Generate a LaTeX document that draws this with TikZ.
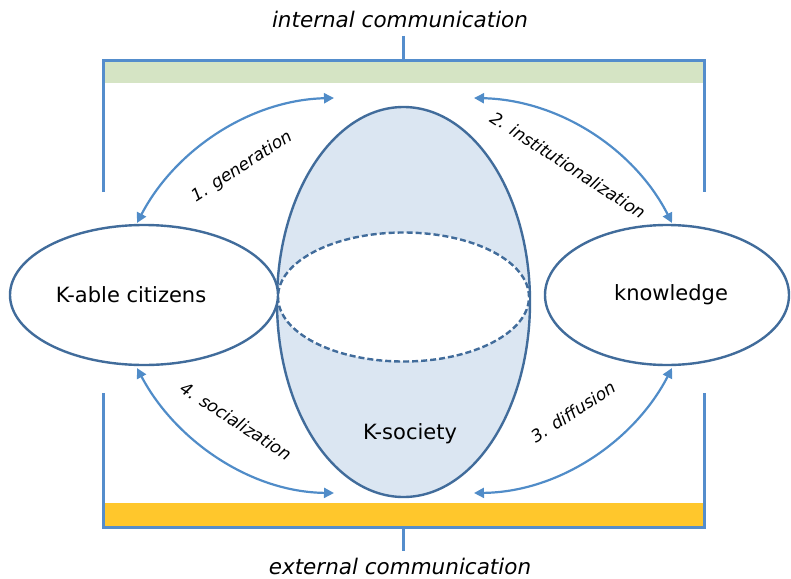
\documentclass[tikz,border=0pt]{standalone}
\usepackage{fontspec}
\setmainfont{DejaVu Sans}
\usetikzlibrary{arrows.meta,shapes.geometric}
\definecolor{framec}{RGB}{84,141,204}
\definecolor{arrowc}{RGB}{80,140,200}
\definecolor{ellc}{RGB}{65,108,155}
\definecolor{fillc}{RGB}{219,230,242}
\definecolor{greenc}{RGB}{213,228,196}
\definecolor{yellowc}{RGB}{255,199,44}
\tikzset{
  frameline/.style={draw=framec,line width=3pt},
  ell/.style={ellipse,draw=ellc,line width=2.4pt,inner sep=0pt},
  flow/.style={draw=arrowc,line width=2.2pt,{Triangle[length=10pt,width=10pt]}-{Triangle[length=10pt,width=10pt]}},
  lbl/.style={font=\fontsize{17}{20}\selectfont\itshape},
  title/.style={font=\fontsize{21.5}{24}\selectfont\itshape,inner sep=0pt},
  big/.style={font=\fontsize{21}{24}\selectfont}
}
\begin{document}
\begin{tikzpicture}[x=1pt,y=-1pt]
\useasboundingbox (0,0) rectangle (791,578);
% bands
\fill[greenc] (103,60) rectangle (704,83);
\fill[yellowc] (103,503) rectangle (704,527);
% frame
\draw[frameline] (403,36) -- (403,60);
\draw[frameline] (103,192) -- (103,60) -- (704,60) -- (704,192);
\draw[frameline] (103,393) -- (103,527) -- (704,527) -- (704,393);
\draw[frameline] (403,527) -- (403,551);
\node[title] (internal) at (400,19) {internal communication};
\node[title] (external) at (400,566) {external communication};
% ellipses
\node[ell,fill=fillc,minimum width=253pt,minimum height=390pt] (society) at (403.5,302) {};
\node[ell,dashed,dash pattern=on 6pt off 3pt,fill=white,minimum width=251pt,minimum height=129pt] (inner) at (403.5,297) {};
\node[big] (soclbl) at (410,434) {K-society};
\node[ell,fill=white,minimum width=268pt,minimum height=140pt] (citizens) at (144,295) {};
\node[big] (citlbl) at (131,295) {K-able citizens};
\node[ell,fill=white,minimum width=244pt,minimum height=140pt] (knowledge) at (667,295) {};
\node[big] (knowlbl) at (671,295) {knowledge};
% free ends of connectors
\coordinate (tl) at (334,98);
\coordinate (tr) at (474,98);
\coordinate (bl) at (334,493);
\coordinate (br) at (474,493);
\coordinate (cl1) at (137,223);
\coordinate (cl2) at (137,368);
\coordinate (kr1) at (672,223);
\coordinate (kr2) at (672,368);
% connectors
\draw[flow] (cl1) .. controls (175,150) and (250,100) .. (tl);
\draw[flow] (tr) .. controls (560,100) and (635,150) .. (kr1);
\draw[flow] (cl2) .. controls (175,440) and (250,492) .. (bl);
\draw[flow] (br) .. controls (560,492) and (635,440) .. (kr2);
% labels
\node[lbl,rotate=33] (gen) at (242,167) {1. generation};
\node[lbl,rotate=-33] (inst) at (568,165) {2. institutionalization};
\node[lbl,rotate=-33] (soc) at (236,421) {4. socialization};
\node[lbl,rotate=33] (dif) at (573,412) {3. diffusion};
\end{tikzpicture}
\end{document}
